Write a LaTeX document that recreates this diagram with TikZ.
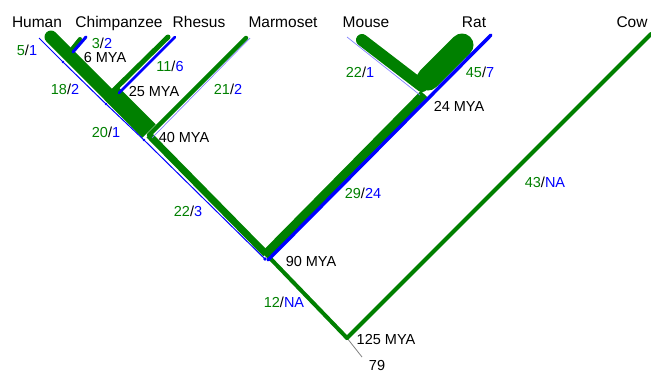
\documentclass[tikz,border=0pt]{standalone}
\usepackage{fontspec}
\setmainfont{Liberation Sans}
\definecolor{treegreen}{RGB}{0,128,0}
\definecolor{treeblue}{RGB}{0,0,255}
\newcommand{\subst}[2]{\textcolor{treegreen}{#1}/\textcolor{treeblue}{#2}}

\begin{document}
\begin{tikzpicture}[x=1pt, y=-1pt, inner sep=0pt, anchor=base,
  species/.style={font=\fontsize{15.5}{18}\selectfont},
  tag/.style={font=\fontsize{14.5}{17}\selectfont},
  gbranch/.style={draw=treegreen, line cap=round},
  bbranch/.style={draw=treeblue},
  pbranch/.style={draw=treeblue!50, line width=0.7pt}]
\useasboundingbox (0,0) rectangle (651,373);
% vertices of the green tree
\coordinate (root) at (347,338);
\coordinate (n90) at (266,254);
\coordinate (n40) at (149,135);
\coordinate (n40t) at (149,131);
\coordinate (n25) at (109,95);
\coordinate (n25t) at (111,93);
\coordinate (n6) at (68,54);
\coordinate (n24) at (424,94);
\coordinate (hum) at (51,37);
\coordinate (chi) at (80,39);
\coordinate (rhe) at (168,37);
\coordinate (mar) at (246,38);
\coordinate (mou) at (362,40);
\coordinate (mouend) at (422,86);
\coordinate (ratbase) at (428,79);
\coordinate (rat) at (462,45);
\coordinate (cow) at (651,34);
\coordinate (stub) at (362,357);
% vertices of the blue tree
\coordinate (b90) at (265,259);
\coordinate (b40) at (144,140);
\coordinate (b25) at (106,104);
\coordinate (b6) at (63,62);
\coordinate (bhum) at (39,38);
\coordinate (bchi0) at (73,52);
\coordinate (bchi) at (86,37);
\coordinate (brhe0) at (119,93);
\coordinate (brhe) at (175,37);
\coordinate (bmar0) at (152,138);
\coordinate (bmar) at (250,38);
\coordinate (brod0) at (268,260);
\coordinate (brat) at (491,35);
\coordinate (bmou0) at (420,95);
\coordinate (bmou) at (347,37);

\begin{scope}[every node/.style={species}]
\node (lhum) at (37,27.5) {Human};
\node (lchi) at (119,27.5) {Chimpanzee};
\node (lrhe) at (199,27.5) {Rhesus};
\node (lmar) at (283,27.5) {Marmoset};
\node (lmou) at (366,27.5) {Mouse};
\node (lrat) at (474,27.5) {Rat};
\node (lcow) at (632,27.5) {Cow};
\end{scope}

\begin{scope}[every node/.style={tag}]
\node (c51) at (27,55) {\subst{5}{1}};
\node (c32) at (102,48) {\subst{3}{2}};
\node (c116) at (170,71) {\subst{11}{6}};
\node (c182) at (65,94) {\subst{18}{2}};
\node (c212) at (228,94) {\subst{21}{2}};
\node (c201) at (106,137) {\subst{20}{1}};
\node (c221) at (360,77) {\subst{22}{1}};
\node (c457) at (480,77) {\subst{45}{7}};
\node (c223) at (188,216) {\subst{22}{3}};
\node (c2924) at (363,198) {\subst{29}{24}};
\node (c12) at (284,307) {\subst{12}{NA}};
\node (c43) at (545,187) {\subst{43}{NA}};
\node (a6) at (105,62) {6 MYA};
\node (a25) at (154,96) {25 MYA};
\node (a40) at (184,142) {40 MYA};
\node (a24) at (459,111) {24 MYA};
\node (a90) at (311,266) {90 MYA};
\node (a125) at (386,344) {125 MYA};
\node (n79) at (377,370) {79};
\end{scope}

% green branches
\begin{scope}
\draw[gray, line width=0.8pt] (root) -- (stub);
\draw[gbranch, line width=4pt] (root) -- (cow);
\draw[gbranch, line width=4pt] (root) -- (n90);
\draw[gbranch, line width=7pt, line cap=butt] (n90) -- (n40);
\draw[gbranch, line width=4.5pt] (n40) -- (mar);
\draw[gbranch, line width=19pt, line cap=butt] (n40t) -- (n25t);
\draw[gbranch, line width=5pt] (n25) -- (rhe);
\draw[gbranch, line width=13pt] (n25) -- (hum);
\draw[gbranch, line width=4pt] (n6) -- (chi);
\draw[gbranch, line width=9pt, line cap=butt] (n90) -- (n24);
\draw[gbranch, line width=12pt] (mou) -- (mouend);
\draw[gbranch, line width=23pt] (ratbase) -- (rat);
\end{scope}

% blue branches
\begin{scope}
\draw[bbranch, line width=1pt] (bhum) -- (b6) -- (b25) -- (b40) -- (b90);
\fill[treeblue] (b6) circle[radius=1.4pt] (b25) circle[radius=1.4pt]
  (b40) circle[radius=1.4pt] (b90) circle[radius=1.8pt];
\draw[bbranch, line width=3pt, line cap=round] (bchi0) -- (bchi);
\draw[bbranch, line width=2.5pt, line cap=round] (brhe0) -- (brhe);
\draw[pbranch] (bmar0) -- (bmar);
\draw[bbranch, line width=3.5pt, line cap=round] (brod0) -- (brat);
\draw[pbranch] (bmou0) -- (bmou);
\end{scope}
\end{tikzpicture}
\end{document}
